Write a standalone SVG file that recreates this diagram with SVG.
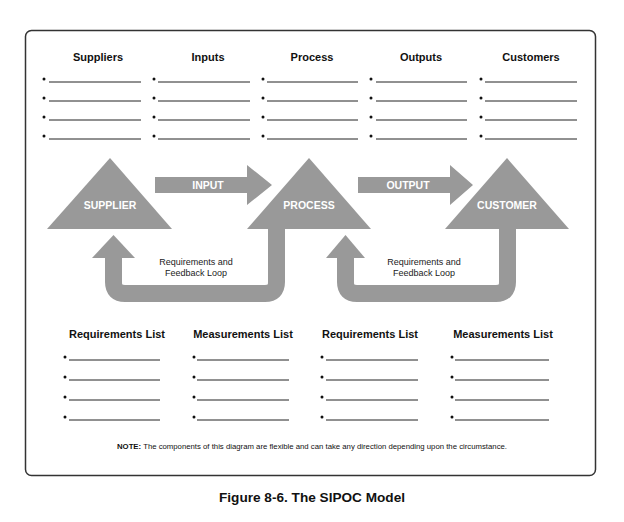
<svg xmlns="http://www.w3.org/2000/svg" width="624" height="522" viewBox="0 0 624 522">
<style>
text{font-family:"Liberation Sans",Arial,sans-serif;}
.h{font-size:11px;font-weight:bold;fill:#111;text-anchor:middle}
.sh{fill:#999}
.w{font-size:10.5px;font-weight:bold;fill:#fff;text-anchor:middle}
.lb{font-size:9px;fill:#222;text-anchor:middle}
.ln{stroke:#222;stroke-width:1}
.bt{font-size:10px;fill:#111}
.loop{fill:none;stroke:#999;stroke-width:17;stroke-linejoin:round}
</style>
<rect width="624" height="522" fill="#fff"/>
<rect x="25.5" y="30.5" width="570" height="445" rx="6" fill="none" stroke="#333" stroke-width="1.5"/>
<g id="top-lists">
<text class="h" x="98" y="61">Suppliers</text>
<text class="h" x="208" y="61">Inputs</text>
<text class="h" x="312" y="61">Process</text>
<text class="h" x="421" y="61">Outputs</text>
<text class="h" x="531" y="61">Customers</text>
<g class="ln">
<path d="M49 82H141M49 101H141M49 120H141M49 139H141M158 82H250M158 101H250M158 120H250M158 139H250M267 82H358M267 101H358M267 120H358M267 139H358M376 82H467M376 101H467M376 120H467M376 139H467M485 82H577M485 101H577M485 120H577M485 139H577"/>
</g>
<g fill="#111">
<circle cx="44" cy="79" r="1.5"/><circle cx="44" cy="98" r="1.5"/><circle cx="44" cy="117" r="1.5"/><circle cx="44" cy="136" r="1.5"/>
<circle cx="154" cy="79" r="1.5"/><circle cx="154" cy="98" r="1.5"/><circle cx="154" cy="117" r="1.5"/><circle cx="154" cy="136" r="1.5"/>
<circle cx="263" cy="79" r="1.5"/><circle cx="263" cy="98" r="1.5"/><circle cx="263" cy="117" r="1.5"/><circle cx="263" cy="136" r="1.5"/>
<circle cx="371" cy="79" r="1.5"/><circle cx="371" cy="98" r="1.5"/><circle cx="371" cy="117" r="1.5"/><circle cx="371" cy="136" r="1.5"/>
<circle cx="481" cy="79" r="1.5"/><circle cx="481" cy="98" r="1.5"/><circle cx="481" cy="117" r="1.5"/><circle cx="481" cy="136" r="1.5"/>
</g>
</g>
<g id="connectors">
<path class="sh" d="M155 177H247V165L272 185L247 205V193H155Z"/>
<path class="sh" d="M358 177H450V165L473 185L450 205V193H358Z"/>
<path class="loop" d="M276.5 229V282Q276.5 293.5 265 293.5H125Q113.5 293.5 113.5 282V256"/>
<polygon class="sh" points="92,258 113.5,235 135,258"/>
<text class="lb" x="196" y="265">Requirements and</text>
<text class="lb" x="196" y="276">Feedback Loop</text>
<path class="loop" d="M507.5 229V282Q507.5 293.5 496 293.5H357Q345.5 293.5 345.5 282V256"/>
<polygon class="sh" points="326,258 345.5,235 365,258"/>
<text class="lb" x="424" y="265">Requirements and</text>
<text class="lb" x="424" y="276">Feedback Loop</text>
</g>
<text class="w" x="208" y="189">INPUT</text>
<text class="w" x="408" y="189">OUTPUT</text>
<g id="supplier"><polygon class="sh" points="47,229 110,158 172,229"/><text class="w" x="110" y="209">SUPPLIER</text></g>
<g id="process"><polygon class="sh" points="247,229 309,158 371,229"/><text class="w" x="309" y="209">PROCESS</text></g>
<g id="customer"><polygon class="sh" points="445,229 507,158 569,229"/><text class="w" x="507" y="209">CUSTOMER</text></g>
<g id="bottom-lists">
<text class="h" x="117" y="338">Requirements List</text>
<text class="h" x="243" y="338">Measurements List</text>
<text class="h" x="370" y="338">Requirements List</text>
<text class="h" x="503" y="338">Measurements List</text>
<g class="ln">
<path d="M69 360H160M69 380H160M69 400H160M69 420H160M197 360H289M197 380H289M197 400H289M197 420H289M326 360H418M326 380H418M326 400H418M326 420H418M455 360H549M455 380H549M455 400H549M455 420H549"/>
</g>
<g fill="#111">
<circle cx="65" cy="357" r="1.5"/><circle cx="65" cy="377" r="1.5"/><circle cx="65" cy="397" r="1.5"/><circle cx="65" cy="417" r="1.5"/>
<circle cx="194" cy="357" r="1.5"/><circle cx="194" cy="377" r="1.5"/><circle cx="194" cy="397" r="1.5"/><circle cx="194" cy="417" r="1.5"/>
<circle cx="322" cy="357" r="1.5"/><circle cx="322" cy="377" r="1.5"/><circle cx="322" cy="397" r="1.5"/><circle cx="322" cy="417" r="1.5"/>
<circle cx="452" cy="357" r="1.5"/><circle cx="452" cy="377" r="1.5"/><circle cx="452" cy="397" r="1.5"/><circle cx="452" cy="417" r="1.5"/>
</g>
</g>
<text x="312" y="449" font-size="8" text-anchor="middle" fill="#111" textLength="390" lengthAdjust="spacingAndGlyphs"><tspan font-weight="bold">NOTE:</tspan> The components of this diagram are flexible and can take any direction depending upon the circumstance.</text>
<text x="312" y="502" font-size="13.5" font-weight="bold" text-anchor="middle" fill="#111" textLength="186" lengthAdjust="spacingAndGlyphs">Figure 8-6. The SIPOC Model</text>
</svg>
